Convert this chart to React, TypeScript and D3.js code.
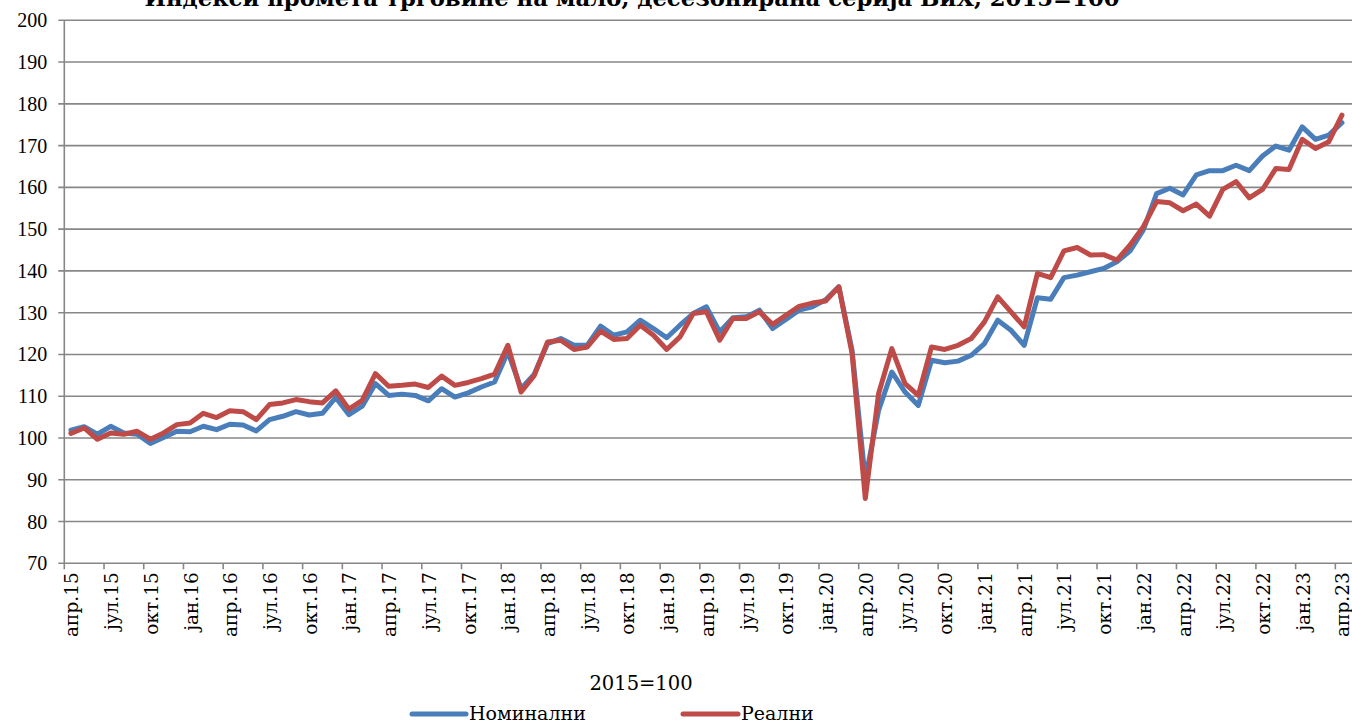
import React from 'react';
import * as d3 from 'd3';

const monthAbbr = ['јан', 'феб', 'мар', 'апр', 'мај', 'јун', 'јул', 'авг', 'сеп', 'окт', 'нов', 'дец'];
// monthly categories apr.15 .. apr.23
const categories: string[] = d3.range(97).map((i) => {
  const m = (3 + i) % 12;
  const yr = 15 + Math.floor((3 + i) / 12);
  return `${monthAbbr[m]}.${yr}`;
});
const tickLabels: string[] = categories.filter((_, i) => i % 3 === 0);

const nominal: number[] = [
  101.9, 102.7, 100.9, 102.8, 101.2, 100.9, 98.7, 100.1, 101.6, 101.5, 102.8, 102.0,
  103.3, 103.1, 101.7, 104.4, 105.2, 106.3, 105.5, 105.9, 109.7, 105.6, 107.6, 113.0,
  110.2, 110.5, 110.2, 108.9, 111.8, 109.8, 110.8, 112.2, 113.4, 120.6, 111.8, 115.3,
  122.6, 123.8, 122.2, 122.2, 126.8, 124.6, 125.4, 128.2, 126.2, 124.0, 127.0, 129.8,
  131.4, 125.4, 128.8, 129.0, 130.6, 126.2, 128.4, 130.6, 131.4, 133.1, 136.2, 121.0,
  90.0, 106.6, 115.8, 111.0, 107.8, 118.6, 118.0, 118.4, 119.8, 122.6, 128.2, 125.8,
  122.2, 133.6, 133.2, 138.4, 139.0, 139.8, 140.6, 142.2, 144.8, 149.8, 158.5, 159.8,
  158.2, 163.0, 164.0, 164.0, 165.3, 164.0, 167.5, 169.9, 168.9, 174.5, 171.5, 172.5,
  175.5,
];

const real: number[] = [
  101.1, 102.4, 99.7, 101.2, 100.9, 101.6, 99.7, 101.2, 103.2, 103.6, 105.9, 104.9,
  106.5, 106.3, 104.4, 108.0, 108.4, 109.2, 108.7, 108.4, 111.3, 106.9, 109.0, 115.4,
  112.4, 112.6, 112.9, 112.1, 114.8, 112.6, 113.3, 114.2, 115.3, 122.2, 111.0, 115.0,
  123.0, 123.4, 121.2, 121.8, 125.6, 123.6, 123.8, 127.0, 124.6, 121.2, 124.2, 129.8,
  130.2, 123.4, 128.6, 128.6, 130.2, 127.2, 129.4, 131.5, 132.3, 132.8, 136.2, 120.2,
  85.5, 110.6, 121.4, 113.0, 110.2, 121.8, 121.2, 122.2, 123.8, 127.8, 133.8, 130.2,
  126.6, 139.4, 138.4, 144.8, 145.6, 143.8, 143.9, 142.6, 146.2, 150.6, 156.6, 156.3,
  154.4, 156.0, 153.1, 159.5, 161.4, 157.5, 159.5, 164.5, 164.3, 171.5, 169.3, 170.9,
  177.3,
];

const yTicks: number[] = d3.range(70, 201, 10);

const title = 'Индекси промета трговине на мало, десезонирана серија БиХ, 2015=100';
const subtitle = '2015=100';
const seriesNames = ['Номинални', 'Реални'];
const seriesColors = ['#4A7EBB', '#BE4B48'];

const W = 1352;
const H = 724;
const left = 64.3;
const bandW = 13.24;
const top = 20.3;
const bottom = 563.3;

export default function App() {
  const x = d3
    .scaleBand<string>()
    .domain(categories)
    .range([left, left + bandW * categories.length])
    .paddingInner(0)
    .paddingOuter(0);
  const y = d3.scaleLinear().domain([70, 200]).range([bottom, top]);
  const bw = x.bandwidth();
  const cx = (i: number) => (x(categories[i]) as number) + bw / 2;
  const line = d3
    .line<number>()
    .x((_, i) => cx(i))
    .y((d) => y(d));

  const gridRight = W;
  const grid = '#878787';
  const font = "'DejaVu Serif', serif";

  return (
    <svg
      width={W}
      height={H}
      style={{ position: 'absolute', left: 0, top: 0, background: '#fff' }}
    >
      <text
        x={632}
        y={6}
        textAnchor="middle"
        fontFamily={font}
        fontWeight="bold"
        fontSize={22}
        textLength={975}
        lengthAdjust="spacingAndGlyphs"
        fill="#000"
      >
        {title}
      </text>

      {yTicks.map((t) => (
        <g key={t}>
          <line x1={left - 6} x2={gridRight} y1={y(t)} y2={y(t)} stroke={grid} strokeWidth={1.6} />
          <text
            x={left - 17}
            y={y(t)}
            dy="0.35em"
            textAnchor="end"
            fontFamily="'Liberation Serif', serif"
            fontSize={20}
            fill="#000"
          >
            {t}
          </text>
        </g>
      ))}
      <line x1={left} x2={left} y1={top} y2={bottom} stroke={grid} strokeWidth={1.6} />

      {tickLabels.map((lab, k) => {
        const i = k * 3;
        const bx = x(categories[i]) as number;
        return (
          <g key={lab}>
            <line x1={bx} x2={bx} y1={bottom} y2={bottom + 6} stroke={grid} strokeWidth={1.6} />
            <text
              transform={`translate(${cx(i) + 1},${bottom + 9}) rotate(-90)`}
              dy="0.35em"
              textAnchor="end"
              fontFamily={font}
              fontSize={18.5}
              fill="#000"
            >
              {lab}
            </text>
          </g>
        );
      })}

      {[nominal, real].map((s, si) => (
        <path
          key={si}
          d={line(s) as string}
          fill="none"
          stroke={seriesColors[si]}
          strokeWidth={5}
          strokeLinejoin="round"
          strokeLinecap="round"
        />
      ))}

      <text x={641} y={690} textAnchor="middle" fontFamily={font} fontSize={19.5} fill="#000">
        {subtitle}
      </text>
      {[
        { x0: 412, x1: 466 },
        { x0: 683, x1: 738 },
      ].map((p, i) => (
        <g key={i}>
          <line
            x1={p.x0}
            x2={p.x1}
            y1={714}
            y2={714}
            stroke={seriesColors[i]}
            strokeWidth={5}
            strokeLinecap="round"
          />
          <text x={p.x1 + 3} y={720} fontFamily={font} fontSize={19} fill="#000">
            {seriesNames[i]}
          </text>
        </g>
      ))}
    </svg>
  );
}
